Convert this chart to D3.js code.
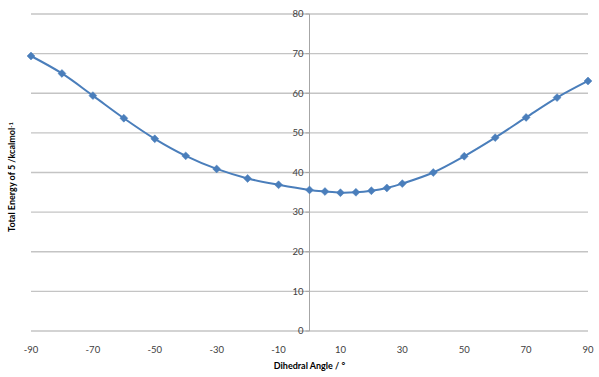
<!DOCTYPE html>
<html><head><meta charset="utf-8">
<script src="https://cdn.jsdelivr.net/npm/d3@7"></script>
<style>body{margin:0;background:#fff;}svg{display:block;font-family:Lato,"Open Sans",sans-serif;}</style>
</head><body>
<svg id="c" width="599" height="377"></svg>
<script>
const angles = [-90,-80,-70,-60,-50,-40,-30,-20,-10,0,5,10,15,20,25,30,40,50,60,70,80,90];
const energies = [69.4,65.0,59.4,53.7,48.5,44.2,40.9,38.5,36.9,35.6,35.2,34.9,35.0,35.4,36.1,37.2,40.0,44.1,48.8,53.9,58.9,63.1];
const xTicks = [-90,-70,-50,-30,-10,10,30,50,70,90];
const yTicks = [0,10,20,30,40,50,60,70,80];
const xTitle = "Dihedral Angle / °";
const yTitle = "Total Energy of 5 /kcalmol";

const svg = d3.select("#c");
const x = d3.scaleLinear().domain([-90,90]).range([31,588]);
const y = d3.scaleLinear().domain([0,80]).range([331,14]);

// gridlines
svg.append("g").selectAll("line").data(yTicks).join("line")
  .attr("x1",x(-90)).attr("x2",x(90))
  .attr("y1",d=>y(d)).attr("y2",d=>y(d))
  .attr("stroke","#c4c4c4").attr("stroke-width",1.3);

// y axis at x=0
svg.append("line").attr("x1",x(0)).attr("x2",x(0)).attr("y1",y(80)).attr("y2",y(0))
  .attr("stroke","#a6a6a6").attr("stroke-width",1);
svg.append("g").selectAll("line").data(yTicks).join("line")
  .attr("x1",x(0)-4).attr("x2",x(0)).attr("y1",d=>y(d)).attr("y2",d=>y(d))
  .attr("stroke","#a6a6a6");

// y tick labels
svg.append("g").selectAll("text").data(yTicks).join("text")
  .attr("x",x(0)-6).attr("y",d=>y(d)).attr("dy","0.35em")
  .attr("text-anchor","end").attr("font-size",9.5).attr("fill","#404040")
  .text(d=>d);

// x tick labels
svg.append("g").selectAll("text").data(xTicks).join("text")
  .attr("x",d=>x(d)).attr("y",350).attr("dy","0.35em")
  .attr("text-anchor","middle").attr("font-size",9.5).attr("fill","#404040")
  .text(d=>d);

// titles
svg.append("text").attr("x",x(0)).attr("y",366).attr("dy","0.35em")
  .attr("text-anchor","middle").attr("font-size",9).attr("font-weight","bold").attr("fill","#000")
  .text(xTitle);
const yt = svg.append("text").attr("transform","translate(12,177) rotate(-90)")
  .attr("text-anchor","middle").attr("dy","0.35em").attr("font-size",9).attr("font-weight","bold").attr("fill","#000");
yt.append("tspan").text(yTitle);
yt.append("tspan").attr("dy","-0.4em").attr("font-size",6).text("-1");

// line
const pts = angles.map((a,i)=>[a,energies[i]]);
const line = d3.line().x(d=>x(d[0])).y(d=>y(d[1])).curve(d3.curveCatmullRom.alpha(0.5));
svg.append("path").attr("d",line(pts)).attr("fill","none")
  .attr("stroke","#4a7ebb").attr("stroke-width",2);

// markers
svg.append("g").selectAll("path").data(pts).join("path")
  .attr("transform",d=>`translate(${x(d[0])},${y(d[1])})`)
  .attr("d",d3.symbol().type(d3.symbolDiamond2).size(40))
  .attr("fill","#4a7ebb").attr("stroke","#4a7ebb").attr("stroke-width",0.5);
</script>
</body></html>
